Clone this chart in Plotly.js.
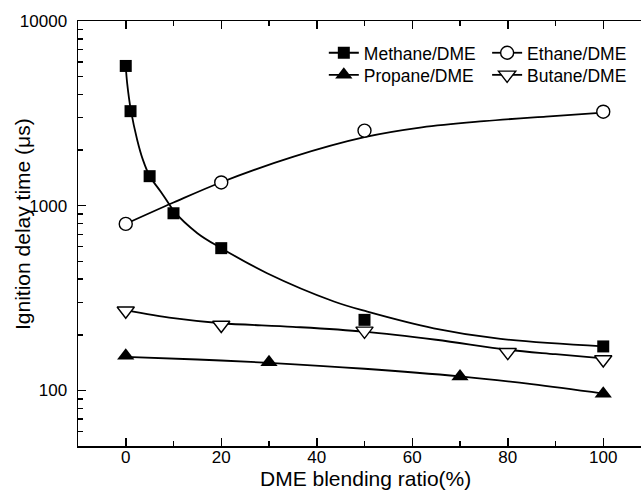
<!DOCTYPE html>
<html>
<head>
<meta charset="utf-8">
<script src="https://cdn.plot.ly/plotly-3.0.1.min.js"></script>
<style>
  html, body { margin: 0; padding: 0; overflow: hidden; background: #fff; }
</style>
</head>
<body>
<div id="chart"></div>
<script>
// Measured ignition delay times (μs) against DME blending ratio (%)
const methaneX = [0, 1, 5, 10, 20, 50, 100];
const methaneY = [5710, 3250, 1445, 910, 589, 241, 173];
const ethaneX = [0, 20, 50, 100];
const ethaneY = [797, 1336, 2551, 3228];
const propaneX = [0, 30, 70, 100];
const propaneY = [154, 142, 119, 96];
const butaneX = [0, 20, 50, 80, 100];
const butaneY = [270, 226, 210, 161, 147];

// Fitted trend lines
const methaneFitX = [0, 0.3, 1.1, 2.4, 3.6, 5, 7.3, 9.2, 10, 15, 20, 29.6, 43.6, 50.6, 64.5, 78.5, 100];
const methaneFitY = [5710, 4600, 3258, 2270, 1770, 1449, 1193, 1010, 940, 710, 589, 431, 303, 267, 217, 190, 173];
const ethaneFitX = [0, 10, 20, 35, 50, 62, 75, 88, 100];
const ethaneFitY = [797, 1040, 1340, 1837, 2348, 2653, 2867, 3039, 3190];
const propaneFitX = [0, 15, 30, 50, 70, 85, 100];
const propaneFitY = [152, 147, 141, 131, 119, 108, 96];
const butaneFitX = [0, 10, 20, 35, 50, 65, 80, 90, 100];
const butaneFitY = [272, 246, 231, 221, 208, 188, 166, 157, 149];

// Axis ticks
const yTickVals = [100, 1000, 10000];
const yTickText = ['100', '1000', '10000'];
const yMinorVals = [60, 70, 80, 90, 200, 300, 400, 500, 600, 700, 800, 900,
                    2000, 3000, 4000, 5000, 6000, 7000, 8000, 9000];

const seriesNames = ['Methane/DME', 'Ethane/DME', 'Propane/DME', 'Butane/DME'];

const FONT = 'Liberation Sans, Arial, Helvetica, sans-serif';
const black = '#000';

const squareMk = { symbol: 'square', size: 12, color: black, line: { width: 0 } };
const circleMk = { symbol: 'circle', size: 13, color: '#fff', line: { color: black, width: 1.4 } };
const triUpMk = { symbol: 'triangle-up', size: 15, color: black, line: { width: 0 } };
const triDownMk = { symbol: 'triangle-down', size: 15, color: '#fff', line: { color: black, width: 1.4 } };

const fitLine = { color: black, width: 1.8, shape: 'spline', smoothing: 1 };

function fit(x, y) {
  return { x: x, y: y, mode: 'lines', line: fitLine, showlegend: false, hoverinfo: 'skip' };
}
function pts(x, y, mk) {
  return { x: x, y: y, mode: 'markers', marker: mk, showlegend: false, cliponaxis: false };
}
function key(name, mk, legend) {
  return { x: [null], y: [null], mode: 'lines+markers', name: name,
           line: { color: black, width: 1.8 }, marker: mk, legend: legend };
}

const data = [
  fit(methaneFitX, methaneFitY),
  fit(ethaneFitX, ethaneFitY),
  fit(propaneFitX, propaneFitY),
  fit(butaneFitX, butaneFitY),
  pts(methaneX, methaneY, squareMk),
  pts(ethaneX, ethaneY, circleMk),
  pts(propaneX, propaneY, triUpMk),
  pts(butaneX, butaneY, triDownMk),
  key(seriesNames[0], squareMk, 'legend'),
  key(seriesNames[1], circleMk, 'legend2'),
  key(seriesNames[2], triUpMk, 'legend3'),
  key(seriesNames[3], triDownMk, 'legend4')
];

// one legend box per entry, laid out as a 2 x 2 grid
function legendAt(x, y) {
  return {
    x: x, y: y, xanchor: 'left', yanchor: 'middle',
    font: { family: FONT, size: 17.5, color: black },
    bgcolor: 'rgba(0,0,0,0)', borderwidth: 0, itemwidth: 30
  };
}

const layout = {
  width: 660,
  height: 490,
  margin: { l: 78, r: 9, t: 21, b: 44 },
  paper_bgcolor: '#fff',
  plot_bgcolor: '#fff',
  font: { family: FONT, size: 17, color: black },
  showlegend: true,
  legend: legendAt(0.429, 0.925),
  legend2: legendAt(0.714, 0.925),
  legend3: legendAt(0.429, 0.873),
  legend4: legendAt(0.714, 0.873),
  xaxis: {
    range: [-10, 110],
    dtick: 20, tick0: 0,
    ticks: 'inside', ticklen: 8, tickwidth: 1.5, tickcolor: black,
    minor: { dtick: 10, tick0: 0, ticks: 'inside', ticklen: 5, tickwidth: 1.5, tickcolor: black, showgrid: false },
    showline: true, linewidth: 1.5, linecolor: black, mirror: 'allticks',
    showgrid: false, zeroline: false,
    tickfont: { family: FONT, size: 17, color: black },
    ticklabelstandoff: -5
  },
  yaxis: {
    type: 'log',
    range: [Math.log10(50), 4],
    tickmode: 'array', tickvals: yTickVals, ticktext: yTickText,
    ticks: 'inside', ticklen: 8, tickwidth: 1.5, tickcolor: black,
    minor: { tickmode: 'array', tickvals: yMinorVals, ticks: 'inside', ticklen: 4.5, tickwidth: 1.5, tickcolor: black, showgrid: false },
    showline: true, linewidth: 1.5, linecolor: black, mirror: 'allticks',
    showgrid: false, zeroline: false,
    tickfont: { family: FONT, size: 17, color: black },
    ticklabelstandoff: 6
  },
  annotations: [
    {
      text: 'Ignition delay time (μs)',
      xref: 'paper', yref: 'paper',
      x: -0.098, y: 0.522,
      xanchor: 'center', yanchor: 'middle',
      textangle: -90, showarrow: false,
      font: { family: FONT, size: 21, color: black }
    },
    {
      text: 'DME blending ratio(%)',
      xref: 'paper', yref: 'paper',
      x: 0.501, y: -0.0753,
      xanchor: 'center', yanchor: 'middle',
      showarrow: false,
      font: { family: FONT, size: 21, color: black }
    }
  ]
};

Plotly.newPlot('chart', data, layout, { displayModeBar: false, staticPlot: true });
</script>
</body>
</html>
